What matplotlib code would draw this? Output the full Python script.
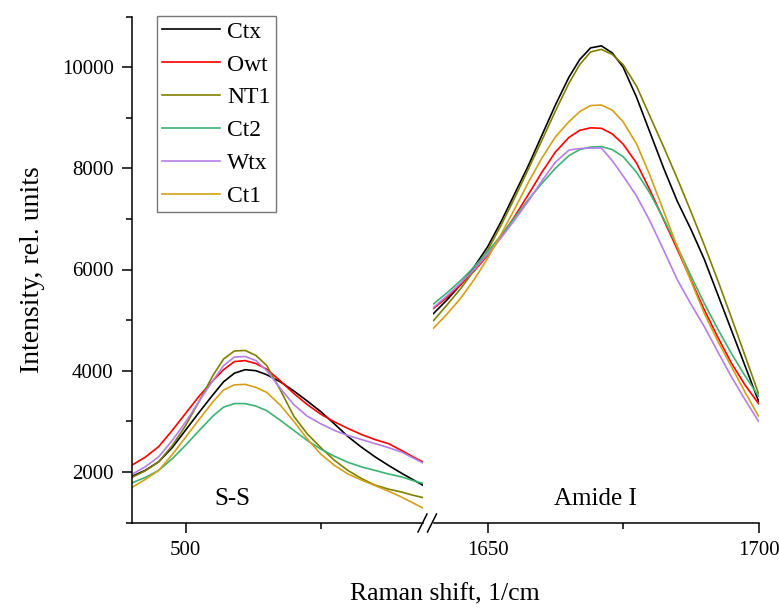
import matplotlib
matplotlib.use("Agg")
import matplotlib.pyplot as plt
from matplotlib.lines import Line2D
from matplotlib.ticker import MultipleLocator

plt.rcParams['font.family'] = ['Liberation Serif', 'DejaVu Serif']

# ---------------- data ----------------
series = ["Ctx", "Owt", "NT1", "Ct2", "Wtx", "Ct1"]
colors = ["#000000", "#ff0000", "#808000", "#3cb371", "#b57ee8", "#d4a017"]

# S-S region
x_ss = [490, 492.5, 495, 497.5, 500, 502.5, 505, 507, 509, 511, 513, 515,
        517.5, 520, 522.5, 525, 527.5, 530, 532.5, 535, 537.5, 540, 542, 544]
ss_Ctx = [1910, 2030, 2200, 2480, 2830, 3180, 3520, 3780, 3950, 4020, 4000, 3920,
          3780, 3600, 3400, 3190, 2950, 2700, 2490, 2300, 2130, 1970, 1850, 1730]
ss_Owt = [2130, 2290, 2500, 2820, 3160, 3500, 3800, 4020, 4180, 4200, 4140, 4030,
          3800, 3550, 3330, 3140, 2990, 2860, 2740, 2640, 2560, 2420, 2300, 2190]
ss_NT1 = [1890, 2020, 2200, 2520, 2920, 3400, 3900, 4230, 4390, 4400, 4300, 4100,
          3620, 3100, 2750, 2480, 2230, 2030, 1870, 1740, 1660, 1600, 1540, 1490]
ss_Ct2 = [1780, 1890, 2030, 2260, 2530, 2820, 3100, 3280, 3350, 3350, 3300, 3210,
          3020, 2820, 2620, 2450, 2310, 2190, 2100, 2030, 1960, 1900, 1830, 1770]
ss_Wtx = [1950, 2100, 2300, 2620, 2990, 3400, 3800, 4100, 4270, 4280, 4200, 4000,
          3650, 3330, 3100, 2950, 2820, 2720, 2640, 2560, 2480, 2390, 2280, 2170]
ss_Ct1 = [1690, 1850, 2030, 2340, 2690, 3040, 3380, 3620, 3720, 3730, 3670, 3570,
          3320, 3000, 2650, 2350, 2130, 1960, 1840, 1730, 1620, 1500, 1390, 1280]

# Amide I region
x_am = [1640, 1642.5, 1645, 1647.5, 1650, 1652.5, 1655, 1657.5, 1660, 1662.5, 1665,
        1667, 1669, 1671, 1673, 1675, 1677.5, 1680, 1682.5, 1685, 1687.5, 1690,
        1692.5, 1695, 1697.5, 1700]
am_Ctx = [5130, 5400, 5700, 6050, 6450, 6950, 7500, 8050, 8650, 9250, 9800,
          10150, 10380, 10420, 10280, 10000, 9400, 8700, 8000, 7350, 6800, 6200,
          5500, 4800, 4100, 3400]
am_Owt = [5230, 5450, 5700, 5970, 6280, 6650, 7050, 7480, 7920, 8320, 8610,
          8750, 8800, 8790, 8680, 8480, 8100, 7560, 6980, 6400, 5800, 5200,
          4660, 4150, 3720, 3350]
am_NT1 = [4990, 5300, 5620, 5980, 6380, 6880, 7420, 7980, 8550, 9130, 9680,
          10050, 10300, 10350, 10250, 10050, 9620, 9020, 8420, 7800, 7150, 6480,
          5780, 5050, 4300, 3550]
am_Ct2 = [5320, 5540, 5780, 6050, 6350, 6680, 7030, 7380, 7700, 8000, 8250,
          8370, 8420, 8430, 8370, 8230, 7920, 7500, 7000, 6450, 5880, 5330,
          4820, 4340, 3900, 3500]
am_Wtx = [5250, 5480, 5730, 6000, 6300, 6630, 6980, 7350, 7750, 8120, 8360,
          8390, 8400, 8400, 8150, 7850, 7450, 6950, 6380, 5800, 5320, 4870,
          4370, 3880, 3430, 3000]
am_Ct1 = [4840, 5120, 5430, 5800, 6220, 6700, 7200, 7720, 8200, 8620, 8920,
          9120, 9240, 9250, 9150, 8920, 8480, 7850, 7150, 6450, 5780, 5130,
          4580, 4080, 3580, 3100]

ss_data = [ss_Ctx, ss_Owt, ss_NT1, ss_Ct2, ss_Wtx, ss_Ct1]
am_data = [am_Ctx, am_Owt, am_NT1, am_Ct2, am_Wtx, am_Ct1]

# ---------------- figure ----------------
W, H = 779, 608
fig = plt.figure(figsize=(W / 100, H / 100), dpi=100)

def fx(px):
    return px / W

def fy(py):
    return 1 - py / H

top_px, bot_px = 16.5, 522.5
ax1 = fig.add_axes([fx(131.7), fy(bot_px), fx(423.5) - fx(131.7), fy(top_px) - fy(bot_px)])
ax2 = fig.add_axes([fx(433.5), fy(bot_px), fx(758.5) - fx(433.5), fy(top_px) - fy(bot_px)])

lw = 1.2
for name, c, d in zip(series, colors, ss_data):
    ax1.plot(x_ss, d, color=c, lw=lw, label=name)
for name, c, d in zip(series, colors, am_data):
    ax2.plot(x_am, d, color=c, lw=lw)

for ax in (ax1, ax2):
    ax.set_ylim(1000, 11000)
    ax.spines['top'].set_visible(False)
    ax.spines['right'].set_visible(False)
    ax.spines['bottom'].set_linewidth(1.1)
    ax.spines['left'].set_linewidth(1.1)
    ax.xaxis.set_major_locator(MultipleLocator(50))
    ax.xaxis.set_minor_locator(MultipleLocator(25))
    ax.tick_params(axis='both', which='major', direction='out', length=7, width=1.1,
                   labelsize=15, pad=6)
    ax.tick_params(axis='both', which='minor', direction='out', length=4, width=1.1)
    ax.patch.set_alpha(0)

ax1.set_xlim(490, 544)
ax2.set_xlim(1640, 1700)
ax1.yaxis.set_major_locator(MultipleLocator(2000))
ax1.yaxis.set_minor_locator(MultipleLocator(1000))
ax2.spines['left'].set_visible(False)
ax2.tick_params(axis='y', which='both', left=False, labelleft=False)

ax1.set_ylabel("Intensity, rel. units", fontsize=20, labelpad=12)
fig.text((fx(131.7) + fx(758.5)) / 2, fy(594), "Raman shift, 1/cm", fontsize=18.5,
         ha='center', va='center')

ax1.text(0.345, 0.046, "S-S", transform=ax1.transAxes, fontsize=18, ha='center', va='center')
ax2.text(0.497, 0.046, "Amide I", transform=ax2.transAxes, fontsize=18, ha='center', va='center')

# break marks
for cx in (422.5, 432.0):
    fig.add_artist(Line2D([fx(cx - 4.5), fx(cx + 4.5)], [fy(532), fy(514)],
                          color='black', lw=1.1, transform=fig.transFigure))

leg = ax1.legend(loc='upper left', bbox_to_anchor=(fx(157), fy(16)),
                 bbox_transform=fig.transFigure, borderaxespad=0, fontsize=17,
                 handlelength=2.45, handletextpad=0.3, labelspacing=0.48,
                 borderpad=0.22, frameon=True, fancybox=False)
leg.get_frame().set_edgecolor('#555555')
leg.get_frame().set_linewidth(1.0)

fig.savefig("out.png", dpi=100)
